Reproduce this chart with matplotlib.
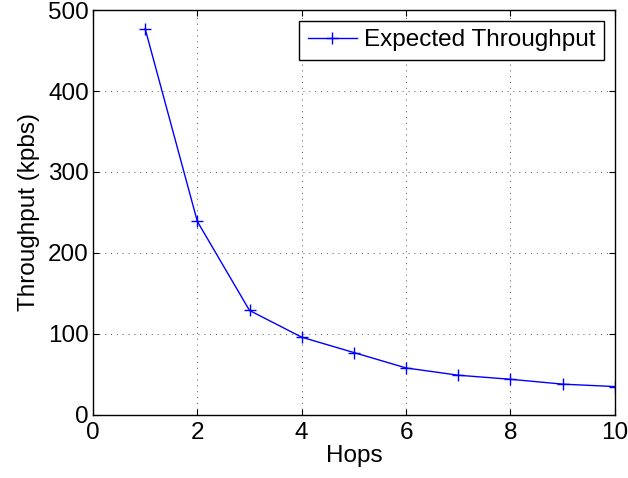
import matplotlib
matplotlib.use("Agg")
import matplotlib.pyplot as plt

hops = [1, 2, 3, 4, 5, 6, 7, 8, 9, 10]
throughput = [477, 239, 129, 96, 77, 58, 49, 44, 38, 35]
x_ticks = [0, 2, 4, 6, 8, 10]
y_ticks = [0, 100, 200, 300, 400, 500]

plt.rcParams.update({
    'font.family': ['Liberation Sans', 'DejaVu Sans'],
    'font.size': 17.5,
    'xtick.direction': 'in', 'ytick.direction': 'in',
    'xtick.top': True, 'ytick.right': True,
    'xtick.major.size': 4, 'ytick.major.size': 4,
    'axes.linewidth': 1.0,
})

fig = plt.figure(figsize=(6.28, 4.78), dpi=100)
ax = fig.add_axes([0.148, 0.132, 0.831, 0.847])

ax.plot(hops, throughput, color='#0000ff', lw=1.0, marker='+', ms=8, mew=1.0,
        label='Expected Throughput')

ax.set_xlim(0, 10)
ax.set_ylim(0, 500)
ax.set_xticks(x_ticks)
ax.set_yticks(y_ticks)
ax.tick_params(axis='x', pad=5)
ax.tick_params(axis='y', pad=3)
ax.grid(True, color='#555555', ls=(0, (1, 5)), lw=0.7)
ax.set_xlabel('Hops', labelpad=1)
ax.set_ylabel('Throughput (kpbs)', labelpad=6)

leg = ax.legend(loc='upper right', fancybox=False, framealpha=1, edgecolor='black',
                borderaxespad=0.45, handlelength=2.0, handletextpad=0.3, borderpad=0.35)
leg.get_frame().set_linewidth(1.0)

fig.savefig('out.png', dpi=100)
